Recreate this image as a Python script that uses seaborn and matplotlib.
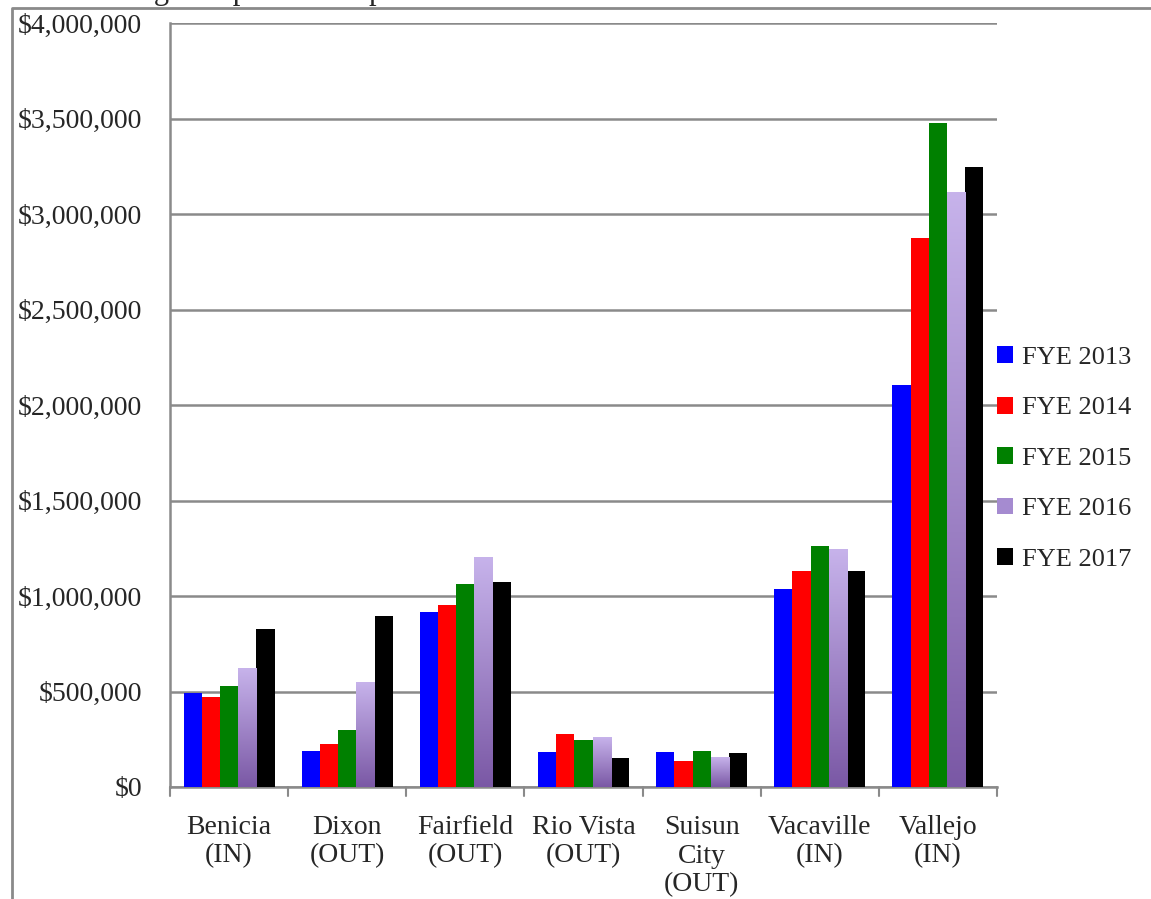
import numpy as np
import pandas as pd
import seaborn as sns
import matplotlib.pyplot as plt
from matplotlib.colors import LinearSegmentedColormap
from matplotlib.patches import Patch
from matplotlib.lines import Line2D

# ---- data ----
cities = ["Benicia\n(IN)", "Dixon\n(OUT)", "Fairfield\n(OUT)", "Rio Vista\n(OUT)",
          "Suisun\nCity\n(OUT)", "Vacaville\n(IN)", "Vallejo\n(IN)"]
years = ["FYE 2013", "FYE 2014", "FYE 2015", "FYE 2016", "FYE 2017"]
fye2013 = [490000, 188000, 915000, 182000, 182000, 1035000, 2103000]
fye2014 = [470000, 224000, 955000, 276000, 135000, 1129000, 2876000]
fye2015 = [530000, 297000, 1061000, 246000, 190000, 1263000, 3478000]
fye2016 = [618000, 545000, 1203000, 257000, 157000, 1244000, 3115000]
fye2017 = [826000, 894000, 1075000, 150000, 176000, 1129000, 3248000]
colors = ["#0000FF", "#FF0000", "#008000", "#A58BD0", "#000000"]

series = [fye2013, fye2014, fye2015, fye2016, fye2017]
df = pd.DataFrame({
    "City": cities * len(years),
    "Year": [y for y in years for _ in cities],
    "Expense": [v for s in series for v in s],
})

sns.set_style("white")
plt.rcParams["font.family"] = ["Liberation Serif", "DejaVu Serif"]

fig = plt.figure(figsize=(11.51, 8.99), dpi=100)
ax = fig.add_axes([170 / 1151, 1 - 787 / 899, 827 / 1151, 764 / 899])

sns.barplot(data=df, x="City", y="Expense", hue="Year", order=cities,
            hue_order=years, palette=colors, saturation=1, width=0.77, ax=ax,
            edgecolor="none", linewidth=0, zorder=3)

# gradient fill for FYE 2016 bars
cmap = LinearSegmentedColormap.from_list("purp", ["#7A58A5", "#C7B3EB"])
grad = np.linspace(0, 1, 256).reshape(-1, 1)
for bar in ax.containers[3]:
    x0, w, h = bar.get_x(), bar.get_width(), bar.get_height()
    bar.set_facecolor("none")
    ax.imshow(grad, cmap=cmap, origin="lower", aspect="auto",
              extent=[x0, x0 + w, 0, h], zorder=3.5)

ax.set_xlim(-0.5, len(cities) - 0.5)
ax.set_ylim(0, 4000000)
ax.set_yticks(np.arange(0, 4000001, 500000))
ax.set_yticklabels([f"${v:,.0f}" for v in np.arange(0, 4000001, 500000)], fontsize=20)
ax.set_xticks(range(len(cities)))
ax.set_xticklabels(cities, fontsize=20, linespacing=1.2)
ax.tick_params(axis="x", length=0, pad=20)
ax.tick_params(axis="y", length=6, width=1.5, color="#8a8a8a", direction="out", pad=14)
ax.set_xlabel("")
ax.set_ylabel("")

# category separators below x axis
for b in np.arange(-0.5, len(cities), 1.0):
    ax.add_line(Line2D([b, b], [0, -0.012], transform=ax.get_xaxis_transform(),
                       color="#8a8a8a", lw=1.5, clip_on=False))

ax.grid(axis="y", color="#8a8a8a", lw=1.8, zorder=0)
ax.set_axisbelow(True)
for side in ["top", "right"]:
    ax.spines[side].set_visible(False)
for side in ["left", "bottom"]:
    ax.spines[side].set_color("#8a8a8a")
    ax.spines[side].set_linewidth(1.8)

handles = [Patch(facecolor=c, edgecolor="none") for c in colors]
ax.legend(handles, years, loc="center left", bbox_to_anchor=(1.0, 0.43),
          frameon=False, fontsize=19, handlelength=0.6, handleheight=0.6,
          handletextpad=0.35, labelspacing=1.05, borderaxespad=0, borderpad=0)

# outer chart frame and clipped title
fig.add_artist(Line2D([12 / 1151, 12 / 1151, 1.0], [0, 1 - 8 / 899, 1 - 8 / 899],
                      color="#8a8a8a", lw=2))
fig.text(15 / 1151, 1 + 1 / 899, "Chart 1: Legal Expense Comparison",
         fontsize=22, va="baseline", ha="left")

fig.savefig("out.png", dpi=100)
